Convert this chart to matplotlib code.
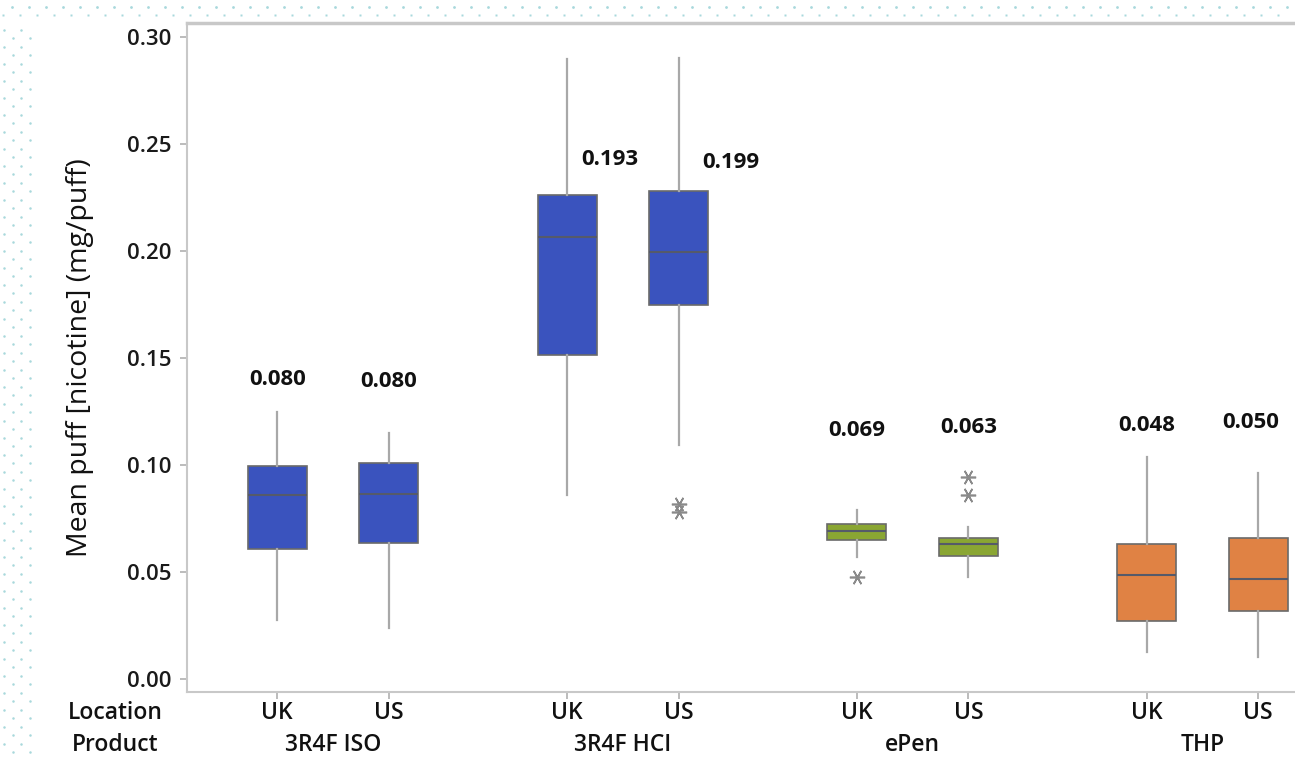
import numpy as np
import matplotlib
matplotlib.use("Agg")
import matplotlib.pyplot as plt
from matplotlib.lines import Line2D

plt.rcParams['font.family'] = ['Open Sans', 'DejaVu Sans']

# Data
products = ['3R4F ISO', '3R4F HCI', 'ePen', 'THP']
locations = ['UK', 'US']
whisker_low = [0.0276, 0.0238, 0.0860, 0.1093, 0.0570, 0.0477, 0.0126, 0.0103]
q1 = [0.0607, 0.0635, 0.1514, 0.1748, 0.0650, 0.0575, 0.0271, 0.0318]
medians = [0.0860, 0.0864, 0.2065, 0.1995, 0.0692, 0.0630, 0.0486, 0.0467]
q3 = [0.0995, 0.1010, 0.2260, 0.2280, 0.0724, 0.0660, 0.0630, 0.0660]
whisker_high = [0.1248, 0.1150, 0.2897, 0.2900, 0.0790, 0.0710, 0.1037, 0.0962]
outliers = [[], [], [], [0.0818, 0.0780], [0.0477], [0.0944, 0.0860], [], []]
means = ['0.080', '0.080', '0.193', '0.199', '0.069', '0.063', '0.048', '0.050']

# layout
positions = [0, 1, 2.6, 3.6, 5.2, 6.2, 7.8, 8.8]
label_y = [0.1400, 0.1390, 0.2428, 0.2414, 0.1163, 0.1173, 0.1182, 0.1196]
label_dx = [0, 0, 0.38, 0.47, 0, 0, 0, -0.07]
colors = ['#3A53BE'] * 4 + ['#8AA633'] * 2 + ['#E08244'] * 2

fig = plt.figure(figsize=(12.95, 7.57), dpi=100)
ax = fig.add_axes([187 / 1295, 1 - 692 / 757, 1 - 187 / 1295, (692 - 23) / 757])

stats = []
for i in range(len(positions)):
    stats.append({'whislo': whisker_low[i], 'q1': q1[i], 'med': medians[i],
                  'q3': q3[i], 'whishi': whisker_high[i], 'fliers': outliers[i]})

bp = ax.bxp(stats, positions=positions, widths=0.53, patch_artist=True,
            showcaps=False,
            whiskerprops=dict(color='#A8A8A8', lw=1.6),
            medianprops=dict(color='#555A6A', lw=1.5),
            boxprops=dict(edgecolor='#6A6A6A', lw=1.2),
            flierprops=dict(marker=(6, 2, 30), markersize=11, markeredgecolor='#8A8A8A',
                            markeredgewidth=1.2, linestyle='none'))
for patch, c in zip(bp['boxes'], colors):
    patch.set_facecolor(c)

for x, y, dx, t in zip(positions, label_y, label_dx, means):
    ax.text(x + dx, y, t, ha='center', va='center', fontsize=16, fontweight='bold', color='#111111')

ax.set_xlim(-0.81, 9.13)
ax.set_ylim(-0.0061, 0.3065)
ticks = np.arange(0, 0.31, 0.05)
ax.set_yticks(ticks)
ax.set_yticklabels([f'{v:.2f}' for v in ticks], fontsize=16, fontweight='semibold')
ax.set_xticks(positions)
ax.set_xticklabels([])
ax.tick_params(axis='both', color='#B0B0B0', length=5, width=1.2)
ax.tick_params(axis='y', pad=6, labelcolor='#1A1A1A')
for s in ['left', 'bottom', 'top']:
    ax.spines[s].set_color('#C8C8C8')
    ax.spines[s].set_linewidth(1.5)
ax.spines['top'].set_linewidth(2.5)
ax.spines['right'].set_visible(False)

ax.set_ylabel('Mean puff [nicotine] (mg/puff)', fontsize=20.5, labelpad=24, color='#111111')

# Location / Product rows under the axis
row1 = 1 - 713 / 757
row2 = 1 - 745 / 757
to_fig = fig.transFigure.inverted()
for i, x in enumerate(positions):
    xf = to_fig.transform(ax.transData.transform((x, 0)))[0]
    fig.text(xf, row1, locations[i % 2], ha='center', va='center', fontsize=16.5,
             fontweight='semibold', color='#111111')
for g, name in enumerate(products):
    xc = (positions[2 * g] + positions[2 * g + 1]) / 2
    xf = to_fig.transform(ax.transData.transform((xc, 0)))[0]
    fig.text(xf, row2, name, ha='center', va='center', fontsize=16.5,
             fontweight='semibold', color='#111111')
fig.text(115 / 1295, row1, 'Location', ha='center', va='center', fontsize=16.5,
         fontweight='semibold', color='#111111')
fig.text(115 / 1295, row2, 'Product', ha='center', va='center', fontsize=16.5,
         fontweight='semibold', color='#111111')

# slide background dots
dot = '#A8D8DC'
xs = np.arange(12, 1295, 17)
fig.add_artist(Line2D(xs / 1295, np.full(len(xs), 1 - 7 / 757), ls='none', marker='o',
                      ms=2, mfc=dot, mec='none'))
xs2 = np.arange(3, 1295, 17)
fig.add_artist(Line2D(xs2 / 1295, np.full(len(xs2), 1 - 15 / 757), ls='none', marker='s',
                      ms=1.5, mfc=dot, mec='none'))
for col, off in zip([4, 13, 21, 30], [0, 8, 0, 8]):
    ys = np.arange(30 + off, 757, 17)
    fig.add_artist(Line2D(np.full(len(ys), col / 1295), 1 - ys / 757, ls='none', marker='o',
                          ms=1.8, mfc=dot, mec='none'))

fig.savefig('out.png', dpi=100)
